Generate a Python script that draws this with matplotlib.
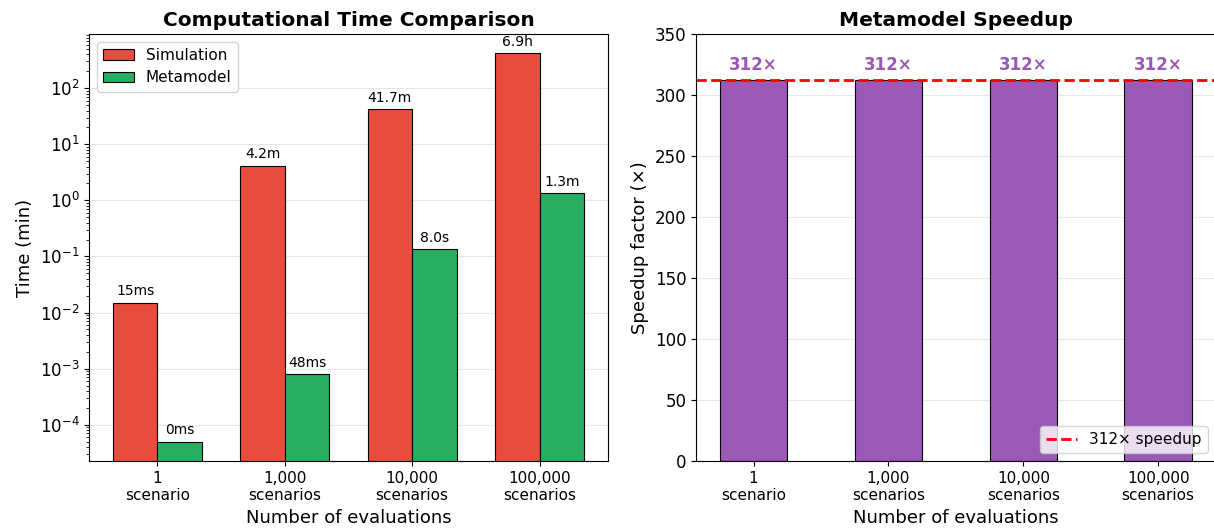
import matplotlib
matplotlib.use("Agg")
import matplotlib.pyplot as plt
from matplotlib.ticker import LogLocator, NullFormatter
import numpy as np

# Evaluation counts and timing data (minutes)
categories = ["1\nscenario", "1,000\nscenarios", "10,000\nscenarios", "100,000\nscenarios"]
simulation_min = [0.015, 4.17, 41.7, 417.0]
metamodel_min = [5e-5, 8e-4, 0.1336, 1.336]
simulation_labels = ["15ms", "4.2m", "41.7m", "6.9h"]
metamodel_labels = ["0ms", "48ms", "8.0s", "1.3m"]

# Speedup factors
speedup = [312, 312, 312, 312]
speedup_ref = 312

RED = "#e74c3c"
GREEN = "#27ae60"
PURPLE = "#9b59b6"

W, H = 1214, 531
fig = plt.figure(figsize=(W / 100, H / 100), dpi=100)

def px_axes(left, top, right, bottom):
    return fig.add_axes([left / W, 1 - bottom / H, (right - left) / W, (bottom - top) / H])

ax1 = px_axes(89.3, 34, 607.7, 461)
ax2 = px_axes(696.3, 34, 1215.5, 461)

x = np.arange(len(categories))
width = 0.35

# Left: computational time on a log scale
b1 = ax1.bar(x - width / 2, simulation_min, width, color=RED, edgecolor="black",
             linewidth=0.8, label="Simulation")
b2 = ax1.bar(x + width / 2, metamodel_min, width, color=GREEN, edgecolor="black",
             linewidth=0.8, label="Metamodel")
ax1.set_yscale("log")
ax1.yaxis.set_minor_locator(LogLocator(base=10, subs=np.arange(2, 10), numticks=100))
ax1.yaxis.set_minor_formatter(NullFormatter())
for rect, lab in zip(b1, simulation_labels):
    ax1.text(rect.get_x() + rect.get_width() / 2, rect.get_height() * 1.2, lab,
             ha="center", va="bottom", fontsize=10)
for rect, lab in zip(b2, metamodel_labels):
    ax1.text(rect.get_x() + rect.get_width() / 2, rect.get_height() * 1.2, lab,
             ha="center", va="bottom", fontsize=10)
ax1.set_xticks(x)
ax1.set_xticklabels(categories, fontsize=11)
ax1.tick_params(axis="y", labelsize=12)
ax1.set_xlabel("Number of evaluations", fontsize=13)
ax1.set_ylabel("Time (min)", fontsize=13)
ax1.set_title("Computational Time Comparison", fontsize=14.5, fontweight="bold")
ax1.legend(loc="upper left", fontsize=11)
ax1.grid(True, axis="y", alpha=0.3, which="major")
ax1.set_axisbelow(True)

# Right: speedup factor
b3 = ax2.bar(x, speedup, 0.5, color=PURPLE, edgecolor="black", linewidth=0.8)
ax2.axhline(speedup_ref, color="red", linestyle="--", linewidth=2,
            label=f"{speedup_ref}\u00d7 speedup")
for rect, val in zip(b3, speedup):
    ax2.text(rect.get_x() + rect.get_width() / 2, rect.get_height() + 5, f"{val}\u00d7",
             ha="center", va="bottom", fontsize=12, fontweight="bold", color=PURPLE)
ax2.set_ylim(0, 350)
ax2.set_xticks(x)
ax2.set_xticklabels(categories, fontsize=11)
ax2.tick_params(axis="y", labelsize=12)
ax2.set_xlabel("Number of evaluations", fontsize=13)
ax2.set_ylabel("Speedup factor (\u00d7)", fontsize=13)
ax2.set_title("Metamodel Speedup", fontsize=14.5, fontweight="bold")
ax2.legend(loc="lower right", fontsize=11)
ax2.grid(True, axis="y", alpha=0.3)
ax2.set_axisbelow(True)

fig.savefig("out.png", dpi=100)
